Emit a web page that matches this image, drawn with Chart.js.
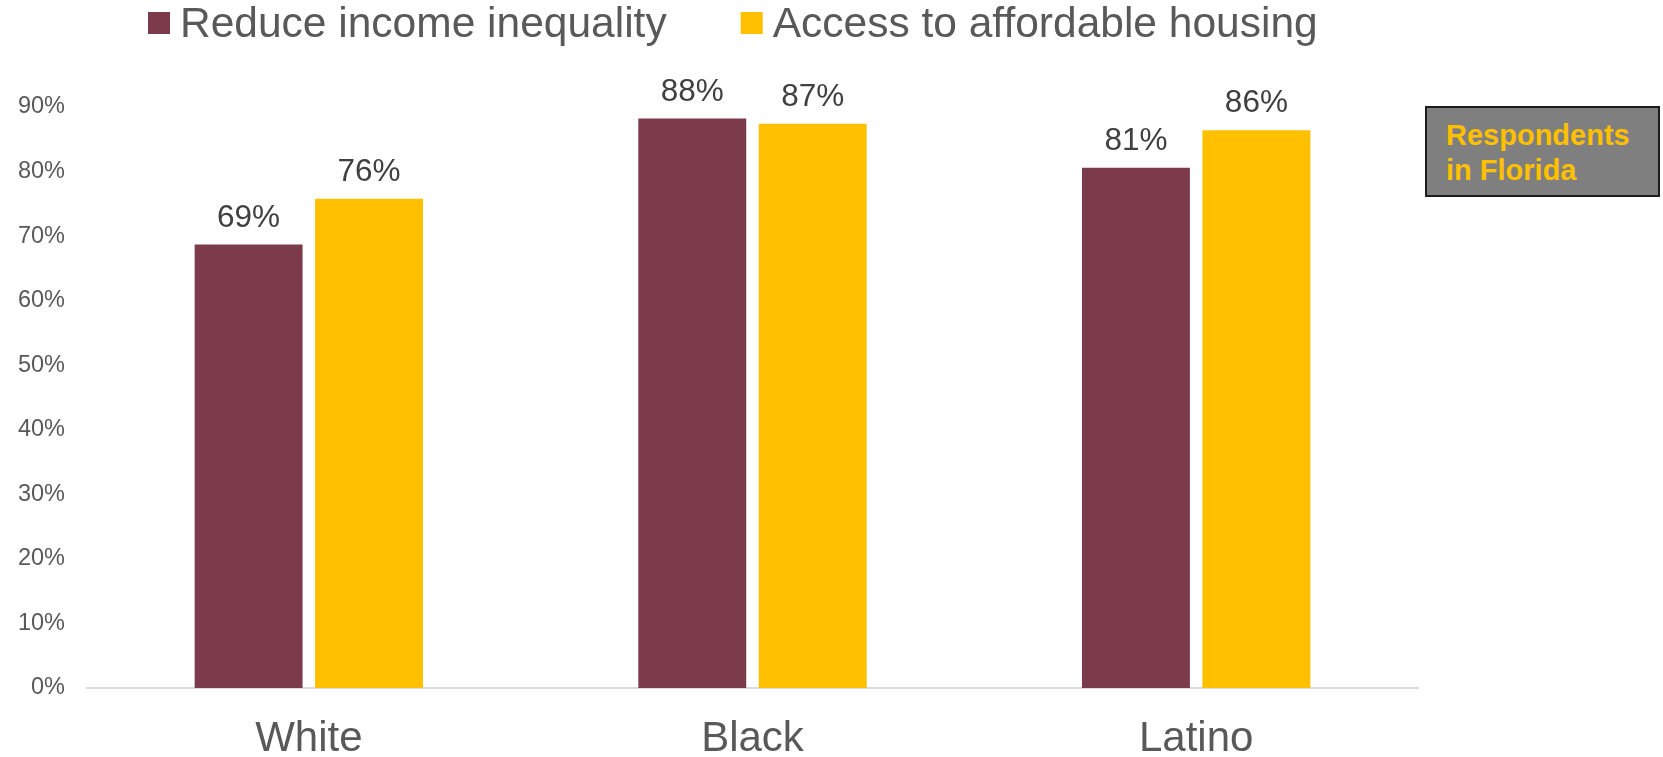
<!DOCTYPE html>
<html>
<head>
<meta charset="utf-8">
<script src="https://cdn.jsdelivr.net/npm/chart.js@4.4.1/dist/chart.umd.min.js"></script>
<style>
  html, body { margin: 0; padding: 0; background: #ffffff; }
  #wrap { position: relative; width: 1663px; height: 757px; }
  #note {
    position: absolute; left: 1425px; top: 106px; width: 235px; height: 91px;
    box-sizing: border-box; background: #7f7f7f; border: 2px solid #1c1c1c;
    font-family: "Liberation Sans", Arial, sans-serif; font-weight: bold;
    font-size: 29px; line-height: 35px; color: #FFC000;
    padding: 10px 0 0 19px;
  }
</style>
</head>
<body>
<div id="wrap">
  <canvas id="c"></canvas>
  <div id="note">Respondents<br>in Florida</div>
</div>
<script>
const categories = ['White', 'Black', 'Latino'];
const seriesNames = ['Reduce income inequality', 'Access to affordable housing'];
const reduceIncome = [68.7, 88.2, 80.6];
const affordableHousing = [75.8, 87.4, 86.4];
const yTickMax = 90;
const yTickStep = 10;

const COLORS = ['#7C3B4A', '#FFC000'];
const FONT = '"Liberation Sans", Arial, sans-serif';

const valueLabels = {
  id: 'valueLabels',
  afterDatasetsDraw(chart) {
    const ctx = chart.ctx;
    ctx.save();
    ctx.font = '31.5px ' + FONT;
    ctx.fillStyle = '#404040';
    ctx.textAlign = 'center';
    ctx.textBaseline = 'alphabetic';
    chart.data.datasets.forEach((ds, i) => {
      const meta = chart.getDatasetMeta(i);
      meta.data.forEach((bar, j) => {
        ctx.fillText(Math.round(ds.data[j]) + '%', bar.x, bar.y - 18);
      });
    });
    ctx.restore();
  }
};

const topLegend = {
  id: 'topLegend',
  afterDraw(chart) {
    const ctx = chart.ctx;
    ctx.save();
    ctx.font = '42.5px ' + FONT;
    ctx.textBaseline = 'alphabetic';
    ctx.textAlign = 'left';
    let x = 148;
    const box = 22, boxTop = 12, baseline = 37, gapText = 32, gapItem = 74;
    chart.data.datasets.forEach((ds, i) => {
      ctx.fillStyle = ds.backgroundColor;
      ctx.fillRect(x, boxTop, box, box);
      ctx.fillStyle = '#595959';
      ctx.fillText(ds.label, x + gapText, baseline);
      x += gapText + ctx.measureText(ds.label).width + gapItem;
    });
    ctx.restore();
  }
};

new Chart(document.getElementById('c'), {
  type: 'bar',
  data: {
    labels: categories,
    datasets: [
      { label: seriesNames[0], data: reduceIncome, backgroundColor: COLORS[0] },
      { label: seriesNames[1], data: affordableHousing, backgroundColor: COLORS[1] }
    ]
  },
  options: {
    responsive: true,
    maintainAspectRatio: false,
    animation: false,
    categoryPercentage: 0.543,
    barPercentage: 0.896,
    layout: { padding: { top: 107, right: 245, bottom: 0, left: 0 } },
    plugins: {
      legend: { display: false },
      tooltip: { enabled: false }
    },
    scales: {
      x: {
        grid: { display: false, drawTicks: false },
        border: { display: true, color: '#d9d9d9', width: 2 },
        afterFit(scale) { scale.height = 69; },
        ticks: {
          color: '#595959',
          font: { family: FONT, size: 42, lineHeight: 0.833 },
          padding: 34
        }
      },
      y: {
        min: 0,
        max: yTickMax,
        grid: { display: false, drawTicks: false },
        border: { display: false },
        afterFit(scale) { scale.width = 87; },
        ticks: {
          stepSize: yTickStep,
          color: '#595959',
          font: { family: FONT, size: 23.5 },
          padding: 22,
          callback: v => v + '%'
        }
      }
    }
  },
  plugins: [valueLabels, topLegend]
});
</script>
</body>
</html>
